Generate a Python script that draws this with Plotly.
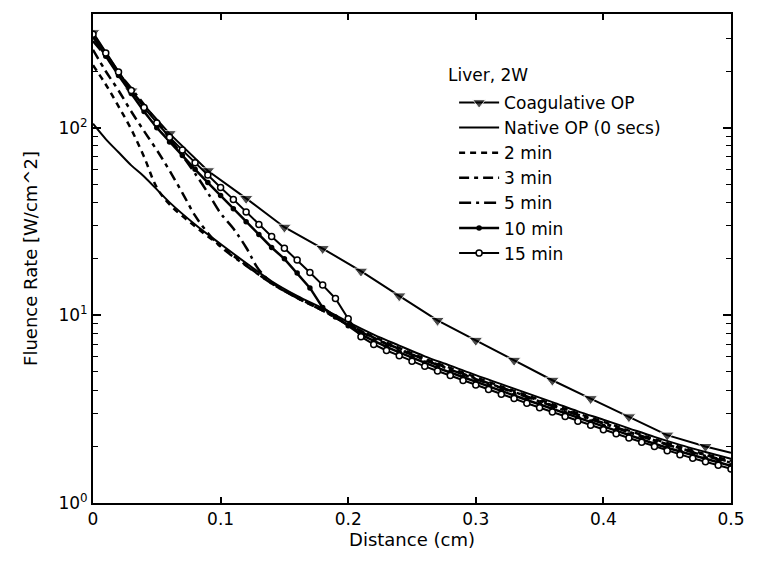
import plotly.graph_objects as go

# ---------------- data ----------------
coag_x = [0.0, 0.03, 0.06, 0.09, 0.12, 0.15, 0.18, 0.21, 0.24, 0.27, 0.30, 0.33, 0.36, 0.39, 0.42, 0.45, 0.48, 0.50]
coag_y = [321, 157, 93, 59, 42, 29.5, 22.7, 17.2, 12.7, 9.4, 7.36, 5.76, 4.51, 3.6, 2.88, 2.30, 2.0, 1.85]

native_x = [0.0, 0.01, 0.02, 0.03, 0.04, 0.06, 0.08, 0.10, 0.12, 0.14, 0.16, 0.18, 0.20, 0.22, 0.24, 0.26,
            0.28, 0.30, 0.32, 0.34, 0.36, 0.38, 0.40, 0.42, 0.44, 0.46, 0.48, 0.50]
native_y = [105, 87, 74, 63, 55, 40, 30.5, 24, 19, 15.2, 12.7, 10.9, 9.2, 7.9, 6.9, 6.05,
            5.4, 4.8, 4.3, 3.85, 3.45, 3.08, 2.78, 2.5, 2.25, 2.04, 1.87, 1.72]

min2_x = [0.0, 0.01, 0.02, 0.03, 0.04, 0.05, 0.06, 0.08, 0.10, 0.12, 0.14, 0.16, 0.18, 0.20, 0.22, 0.24,
          0.26, 0.28, 0.30, 0.32, 0.34, 0.36, 0.38, 0.40, 0.42, 0.44, 0.46, 0.48, 0.50]
min2_y = [215, 170, 130, 98, 70, 48, 39, 29.8, 23.4, 18.5, 14.8, 12.4, 10.6, 8.95, 7.7, 6.7,
          5.88, 5.25, 4.68, 4.18, 3.75, 3.36, 3.0, 2.71, 2.43, 2.19, 1.99, 1.82, 1.68]

min3_x = [0.0, 0.01, 0.02, 0.03, 0.04, 0.05, 0.06, 0.07, 0.08, 0.09, 0.10, 0.12, 0.14, 0.16, 0.18, 0.20,
          0.22, 0.24, 0.26, 0.28, 0.30, 0.32, 0.34, 0.36, 0.38, 0.40, 0.42, 0.44, 0.46, 0.48, 0.50]
min3_y = [260, 200, 158, 122, 96, 76, 59, 45, 34, 27.5, 23.2, 18.4, 14.8, 12.4, 10.7, 9.0,
          7.6, 6.62, 5.8, 5.18, 4.6, 4.12, 3.7, 3.31, 2.96, 2.67, 2.4, 2.16, 1.96, 1.8, 1.65]

min5_x = [0.0, 0.01, 0.02, 0.03, 0.04, 0.05, 0.06, 0.07, 0.08, 0.09, 0.10, 0.11, 0.12, 0.13, 0.14, 0.16,
          0.18, 0.20, 0.22, 0.24, 0.26, 0.28, 0.30, 0.32, 0.34, 0.36, 0.38, 0.40, 0.42, 0.44, 0.46, 0.48, 0.50]
min5_y = [290, 240, 196, 162, 133, 108, 88, 71, 57, 45, 35, 29, 23, 17.5, 15.0, 12.4,
          10.6, 8.9, 7.55, 6.58, 5.78, 5.14, 4.57, 4.1, 3.67, 3.29, 2.94, 2.65, 2.38, 2.15, 1.95, 1.78, 1.64]

dist_01 = [0.00, 0.01, 0.02, 0.03, 0.04, 0.05, 0.06, 0.07, 0.08, 0.09,
           0.10, 0.11, 0.12, 0.13, 0.14, 0.15, 0.16, 0.17, 0.18, 0.19,
           0.20, 0.21, 0.22, 0.23, 0.24, 0.25, 0.26, 0.27, 0.28, 0.29,
           0.30, 0.31, 0.32, 0.33, 0.34, 0.35, 0.36, 0.37, 0.38, 0.39,
           0.40, 0.41, 0.42, 0.43, 0.44, 0.45, 0.46, 0.47, 0.48, 0.49, 0.50]

min10_y = [305, 240, 190, 152, 122, 100, 84, 71, 60, 51,
           43.5, 37, 31.5, 27, 23, 20, 16.8, 14.0, 11.0, 9.8,
           8.8, 7.9, 7.3, 6.8, 6.35, 5.95, 5.57, 5.25, 4.96, 4.68,
           4.42, 4.18, 3.95, 3.74, 3.54, 3.35, 3.17, 3.0, 2.84, 2.7,
           2.56, 2.43, 2.3, 2.18, 2.07, 1.97, 1.88, 1.79, 1.72, 1.65, 1.58]

min15_y = [315, 250, 198, 158, 128, 106, 89, 76, 65, 56,
           48, 41.5, 35.5, 30.5, 26.3, 22.8, 19.7, 16.9, 14.5, 12.3,
           9.6, 7.7, 7.0, 6.5, 6.1, 5.7, 5.35, 5.05, 4.78, 4.5,
           4.25, 4.02, 3.8, 3.6, 3.4, 3.22, 3.05, 2.89, 2.73, 2.6,
           2.46, 2.34, 2.22, 2.11, 2.0, 1.9, 1.81, 1.73, 1.66, 1.59, 1.52]

x_ticks = [0, 0.1, 0.2, 0.3, 0.4, 0.5]
x_tick_text = ["0", "0.1", "0.2", "0.3", "0.4", "0.5"]
y_ticks = [1, 10, 100]
y_tick_text = ["10<sup>0</sup>", "10<sup>1</sup>", "10<sup>2</sup>"]
y_minor = [2, 3, 4, 5, 6, 7, 8, 9, 20, 30, 40, 50, 60, 70, 80, 90, 200, 300]

legend_title = "Liver, 2W"

# ---------------- figure ----------------
fig = go.Figure()
fig.add_trace(go.Scatter(x=coag_x, y=coag_y, name="Coagulative OP", mode="lines+markers",
                         line=dict(color="black", width=2),
                         marker=dict(symbol="triangle-down", size=[12] * (len(coag_x) - 1) + [0],
                                     color="black")))
fig.add_trace(go.Scatter(x=native_x, y=native_y, name="Native OP (0 secs)", mode="lines",
                         line=dict(color="black", width=2), line_shape="spline"))
fig.add_trace(go.Scatter(x=min2_x, y=min2_y, name="2 min", mode="lines",
                         line=dict(color="black", width=2.5, dash="6px,5px"), line_shape="spline"))
fig.add_trace(go.Scatter(x=min3_x, y=min3_y, name="3 min", mode="lines",
                         line=dict(color="black", width=2.5, dash="10px,5px,4px,5px"), line_shape="spline"))
fig.add_trace(go.Scatter(x=min5_x, y=min5_y, name="5 min", mode="lines",
                         line=dict(color="black", width=2.5, dash="12px,5px,3px,5px"), line_shape="spline"))
fig.add_trace(go.Scatter(x=dist_01, y=min10_y, name="10 min", mode="lines+markers",
                         line=dict(color="black", width=2.5),
                         marker=dict(symbol="circle", size=5.5, color="black")))
fig.add_trace(go.Scatter(x=dist_01, y=min15_y, name="15 min", mode="lines+markers",
                         line=dict(color="black", width=2),
                         marker=dict(symbol="circle", size=6, color="white",
                                     line=dict(color="black", width=1.5))))

font_family = "DejaVu Sans, Liberation Sans, Arial, sans-serif"

fig.update_layout(
    width=757, height=566,
    margin=dict(l=93, r=18, t=13, b=63),
    paper_bgcolor="white", plot_bgcolor="white",
    font=dict(family=font_family, size=18, color="black"),
    showlegend=True,
    legend=dict(
        x=0.566, y=0.855, xanchor="left", yanchor="top",
        bgcolor="rgba(0,0,0,0)", borderwidth=0,
        font=dict(size=17, color="black"),
        tracegroupgap=0, itemwidth=40,
    ),
    annotations=[dict(text=legend_title, xref="paper", yref="paper",
                      x=(450 - 93) / 646, y=(503 - 74) / 490, xanchor="left", yanchor="middle",
                      showarrow=False, font=dict(size=17, color="black"))],
)

fig.update_xaxes(
    range=[0, 0.5], tickvals=x_ticks, ticktext=x_tick_text,
    showgrid=False, zeroline=False,
    showline=True, linecolor="black", linewidth=2, mirror="ticks",
    ticks="inside", ticklen=6, tickwidth=1.5, tickcolor="black",
    tickfont=dict(size=17),
    title=dict(text="Distance (cm)", font=dict(size=18), standoff=4),
)
fig.update_yaxes(
    type="log", range=[0, 2.606], tickvals=y_ticks, ticktext=y_tick_text,
    showgrid=False, zeroline=False,
    showline=True, linecolor="black", linewidth=2, mirror="ticks",
    ticks="inside", ticklen=8, tickwidth=1.5, tickcolor="black",
    tickfont=dict(size=17),
    minor=dict(tickvals=y_minor, ticks="inside", ticklen=5, tickwidth=1.2, tickcolor="black", showgrid=False),
    title=dict(text="Fluence Rate [W/cm^2]", font=dict(size=18), standoff=16),
)

fig.write_html("out.html")
